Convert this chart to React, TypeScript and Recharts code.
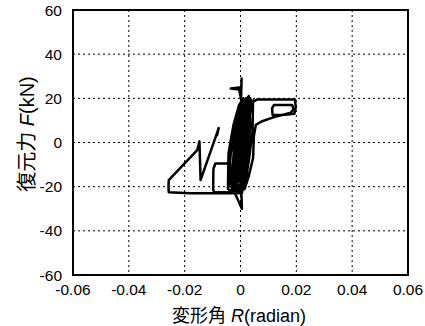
import React from 'react';
import { LineChart, Line, XAxis, YAxis, CartesianGrid, ReferenceArea, Label } from 'recharts';

// loading history (R in radian, F in kN)
const firstCyclesR = [0, 0.0008, 0.0015, 0.001, -0.0005, -0.0015, -0.0025, -0.002, -0.0005, 0.001, 0.002, 0.0015, 0, -0.0015, -0.003, -0.0025, -0.001, 0.0005, 0.0002, 0.0004, 0.0003, -0.0035, -0.0005, 0.001, 0.0025, 0.002, 0.0005, -0.001, -0.002, 0.0005, 0.0003, -0.0005, 0.0005, 0.002, 0.003, 0.0025, 0.001, -0.0005, -0.0035];
const firstCyclesF = [0, 10, 17, 12, -6, -16, -20, -12, 2, 14, 19, 12, -4, -17, -22, -14, 0, 12, 20, 29, 25, 24.5, 24, 15, 20, 10, -5, -18, -23, -30, -22, -10, 5, 16, 20, 13, -2, -16, -22];

const bandCyclesR = [-0.0045, -0.0043, -0.0025, -0.0005, 0.001, 0.0015, 0.0005, -0.001, -0.002, -0.003, -0.0022, 0.0005, 0.002, 0.0025, 0.0015, 0, -0.0005, -0.002, -0.001, 0.001, 0.003, 0.0035, 0.0025, 0.001, 0.0005, -0.001, 0, 0.002, 0.0045, 0.0043, 0.003, 0.0015, -0.001, -0.0035, -0.0038, -0.0015, 0.0015, 0.0035];
const bandCyclesF = [-21, -5, 8, 17, 20, 12, 0, -12, -22, -16, 0, 15, 20, 10, -5, -18, -23, -12, 5, 16, 20.5, 8, -8, -20, -23, -10, 3, 15, 19, 5, -8, -20, -23, -20, -2, 12, 19, 20];

const rightLoopR = [0.0038, 0.0046, 0.006, 0.012, 0.0195, 0.0198, 0.0193, 0.015, 0.0115, 0.0113, 0.012, 0.0185, 0.019, 0.018, 0.012, 0.0075, 0.0055, 0.0048, 0.0045, 0.003, 0.0015, -0.002];
const rightLoopF = [16, 18.5, 19.5, 19.5, 19.5, 16, 13, 12.5, 12.5, 15.5, 17, 17, 15, 13.5, 11.5, 9.5, 8, 3, -7, -15, -21, -23];

const leftLoopR = [-0.0042, -0.0035, -0.0015, 0.001, 0.003, 0.0025, 0.0015, 0, -0.002, -0.003, -0.0038, -0.006, -0.009, -0.0097, -0.0098, -0.0095, -0.004, 0.0015, 0.002, 0.003, 0.004, 0.0035, 0.002, 0.0005, -0.001, -0.004, -0.01, -0.018, -0.0257, -0.0258, -0.0257, -0.0155, -0.0147, -0.0143, -0.0078, -0.0085];
const leftLoopF = [-18, -5, 8, 18, 21, 14, 0, -14, -22, -15, -9.5, -9.5, -9.5, -12, -21, -22.5, -22.5, -21, -5, 10, 19, 14, -2, -18, -23, -23, -23, -23, -22.5, -20, -17, -3.5, 0.5, -17, 6.5, 3];

const xTicks = [-0.06, -0.04, -0.02, 0, 0.02, 0.04, 0.06];
const yTicks = [-60, -40, -20, 0, 20, 40, 60];

const allR = [...firstCyclesR, ...bandCyclesR, ...rightLoopR, ...leftLoopR];
const allF = [...firstCyclesF, ...bandCyclesF, ...rightLoopF, ...leftLoopF];
const data = allR.map((r, i) => ({ r, f: allF[i] }));

const FONT = "'Liberation Sans', 'Noto Sans CJK JP', sans-serif";

export default function App() {
  return (
    <div style={{ position: 'absolute', left: 0, top: 0, background: '#fff' }}>
      <LineChart width={425} height={326} data={data} margin={{ top: 10, right: 17, bottom: 0, left: 0 }}>
        <CartesianGrid stroke="#000" strokeDasharray="2 3" strokeWidth={1} />
        <XAxis
          type="number"
          dataKey="r"
          domain={[-0.06, 0.06]}
          ticks={xTicks}
          interval={0}
          allowDataOverflow
          axisLine={false}
          tickLine={false}
          tickMargin={3}
          height={51}
          tick={{ fill: '#000', fontSize: 15.5, fontFamily: FONT }}
        >
          <Label
            content={() => (
              <text x={239} y={316} textAnchor="middle" dominantBaseline="central" fontSize={18} fontFamily={FONT} fill="#000">
                変形角 <tspan fontStyle="italic">R</tspan>(radian)
              </text>
            )}
          />
        </XAxis>
        <YAxis
          type="number"
          domain={[-60, 60]}
          ticks={yTicks}
          interval={0}
          allowDataOverflow
          axisLine={false}
          tickLine={false}
          tickMargin={5}
          width={73}
          tick={{ fill: '#000', fontSize: 15.5, fontFamily: FONT }}
        >
          <Label
            content={() => (
              <text x={27} y={134} transform="rotate(-90 27 134)" textAnchor="middle" dominantBaseline="central" fontSize={20} fontFamily={FONT} fill="#000">
                復元力 <tspan fontStyle="italic">F</tspan>(kN)
              </text>
            )}
          />
        </YAxis>
        <ReferenceArea x1={-0.06} x2={0.06} y1={-60} y2={60} fill="none" fillOpacity={0} stroke="#000" strokeWidth={2} ifOverflow="visible" />
        <Line
          type="linear"
          dataKey="f"
          stroke="#000"
          strokeWidth={2.5}
          dot={false}
          isAnimationActive={false}
          strokeLinejoin="round"
        />
      </LineChart>
    </div>
  );
}
